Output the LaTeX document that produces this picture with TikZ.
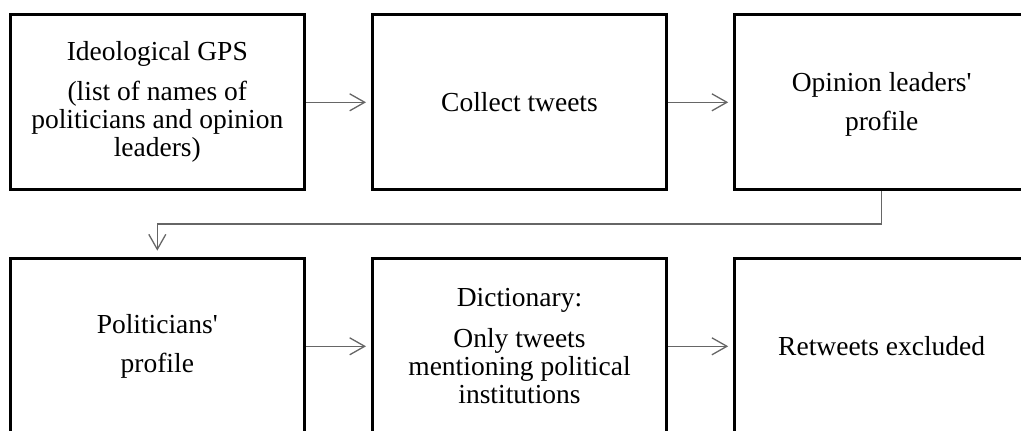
\documentclass[tikz,border=0pt]{standalone}
\usepackage{fontspec}
\setmainfont{Liberation Serif}[Ligatures=TeXOff]
\usetikzlibrary{arrows.meta}
\begin{document}
\begin{tikzpicture}[x=1pt,y=-1pt,
  box/.style={draw=black,line width=3pt,minimum width=294pt,minimum height=175.3pt,
    inner sep=0pt,align=center,font=\fontsize{27.5pt}{28pt}\selectfont},
  conn/.style={draw=black!60,line width=1.3pt,
    -{Straight Barb[length=15pt,width=17pt,line width=1.3pt]}}]
\useasboundingbox (0,0) rectangle (1021,431);
\begin{scope}
\clip (0,0) rectangle (1021,431);
\node[box] (gps) at (157.3,102.3) {Ideological GPS\\[12pt](list of names of\\politicians and opinion\\leaders)};
\node[box] (collect) at (519.5,102.3) {Collect tweets};
\node[box] (opinion) at (881.7,102.3) {\rule{0pt}{23pt}Opinion leaders'\\[11.5pt]profile};
\node[box] (politicians) at (157.3,346.3) {Politicians'\\[11.5pt]profile};
\node[box] (dict) at (519.5,346.3) {Dictionary:\\[13pt]Only tweets\\mentioning political\\institutions};
\node[box] (retweets) at (881.7,346.3) {Retweets excluded};
\coordinate (turn) at (881.7,224);
\draw[conn,shorten >=5pt] (gps.east) -- (collect.west);
\draw[conn,shorten >=5pt] (collect.east) -- (opinion.west);
\draw[conn,shorten >=6.5pt] (opinion.south) -- (turn) -| (politicians.north);
\draw[conn,shorten >=5pt] (politicians.east) -- (dict.west);
\draw[conn,shorten >=5pt] (dict.east) -- (retweets.west);
\end{scope}
\end{tikzpicture}
\end{document}
